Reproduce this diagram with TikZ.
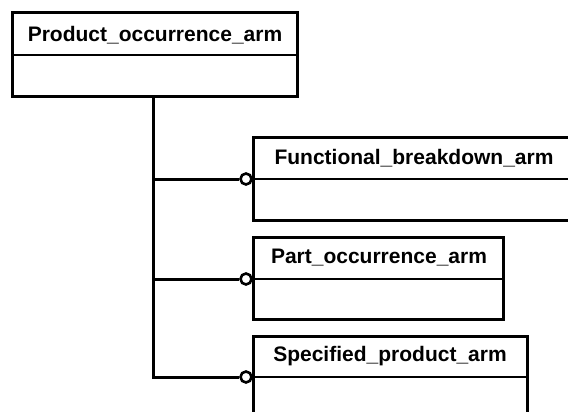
\documentclass[tikz,border=0pt]{standalone}
\usepackage{fontspec}
\setmainfont{Liberation Sans}
\begin{document}
\begin{tikzpicture}[x=1pt,y=-1pt,
  boxline/.style={draw=black,line width=3pt,fill=white},
  divline/.style={draw=black,line width=1.8pt},
  conn/.style={draw=black,line width=3pt},
  opt/.style={circle,draw=black,fill=white,line width=2.6pt,inner sep=0pt,minimum size=11pt},
  lbl/.style={font=\fontsize{21}{24}\selectfont\bfseries,inner sep=0pt,anchor=center}]
\useasboundingbox (0,0) rectangle (568,412);
\clip (0,0) rectangle (568,412);
% boxes
\draw[boxline] (12,13) rectangle (297,97);
\draw[divline] (12,55) -- (297,55);
\node[lbl] (t1) at (155,35) {Product\_occurrence\_arm};
\coordinate (b1) at (153,97);

\draw[boxline] (253,137) rectangle (575,220);
\draw[divline] (253,179) -- (575,179);
\node[lbl] (t2) at (414,158) {Functional\_breakdown\_arm};

\draw[boxline] (253,237) rectangle (503,319);
\draw[divline] (253,279) -- (503,279);
\node[lbl] (t3) at (379,258) {Part\_occurrence\_arm};

\draw[boxline] (253,336) rectangle (527,430);
\draw[divline] (253,377) -- (527,377);
\node[lbl] (t4) at (390,356) {Specified\_product\_arm};

% connectors
\coordinate (j2) at (153,179);
\coordinate (j3) at (153,279);
\coordinate (j4) at (153,377);
\node[opt] (c2) at (246,179) {};
\node[opt] (c3) at (246,279) {};
\node[opt] (c4) at (246,377) {};
\draw[conn] (b1) -- (j4) -- (c4);
\draw[conn] (j2) -- (c2);
\draw[conn] (j3) -- (c3);
\end{tikzpicture}
\end{document}
